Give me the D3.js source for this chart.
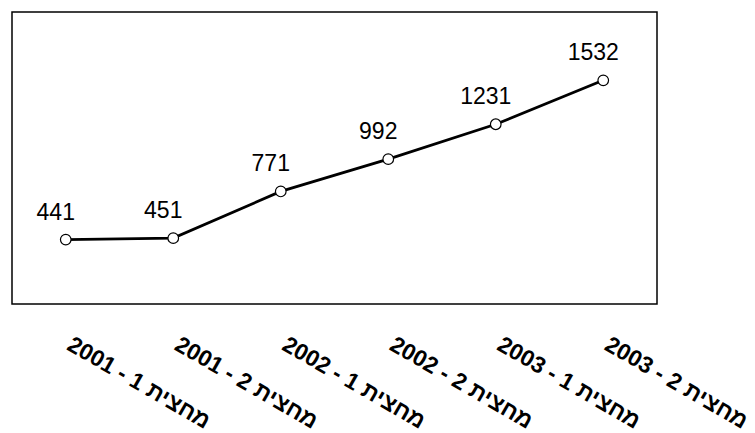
<!DOCTYPE html>
<html>
<head>
<meta charset="utf-8">
<script src="https://cdn.jsdelivr.net/npm/d3@7"></script>
<style>
  html, body { margin: 0; padding: 0; background: #fff; }
  svg { display: block; }
</style>
</head>
<body>
<svg id="chart" width="755" height="433"></svg>
<script>
// Half-year periods and the value recorded for each
const years = ["2001", "2001", "2002", "2002", "2003", "2003"];
const halves = ["1", "2", "1", "2", "1", "2"];
const values = [441, 451, 771, 992, 1231, 1532];
const halfWord = "מחצית";

const categories = years.map((y, i) => `${y} - ${halves[i]} ${halfWord}`);
const data = categories.map((c, i) => ({ cat: c, value: values[i] }));

const svg = d3.select("#chart");
const plot = { left: 12, top: 12, right: 657, bottom: 304 };

const x = d3.scaleBand()
  .domain(categories)
  .range([plot.left, plot.right]);

const y = d3.scaleLinear()
  .domain([0, 2000])
  .range([plot.bottom, plot.top]);

const cx = d => x(d.cat) + x.bandwidth() / 2;

// Plot frame
svg.append("rect")
  .attr("x", plot.left)
  .attr("y", plot.top)
  .attr("width", plot.right - plot.left)
  .attr("height", plot.bottom - plot.top)
  .attr("fill", "none")
  .attr("stroke", "#000")
  .attr("stroke-width", 1.5);

// Series line
svg.append("path")
  .datum(data)
  .attr("fill", "none")
  .attr("stroke", "#000")
  .attr("stroke-width", 2.8)
  .attr("d", d3.line().x(cx).y(d => y(d.value)));

// Point markers
svg.selectAll("circle.pt")
  .data(data)
  .join("circle")
  .attr("class", "pt")
  .attr("cx", cx)
  .attr("cy", d => y(d.value))
  .attr("r", 5.3)
  .attr("fill", "#fff")
  .attr("stroke", "#000")
  .attr("stroke-width", 1.2);

// Value labels above each point
svg.selectAll("text.val")
  .data(data)
  .join("text")
  .attr("class", "val")
  .attr("x", d => cx(d) - 10)
  .attr("y", d => y(d.value) - 20)
  .attr("text-anchor", "middle")
  .attr("font-family", "Arial, 'Liberation Sans', sans-serif")
  .attr("font-size", 23)
  .attr("fill", "#000")
  .text(d => d.value);

// Rotated category labels under the frame
svg.selectAll("text.cat")
  .data(data)
  .join("text")
  .attr("class", "cat")
  .attr("transform", d => `translate(${cx(d)},349) rotate(30)`)
  .attr("text-anchor", "start")
  .attr("font-family", "Arial, 'Liberation Sans', sans-serif")
  .attr("font-weight", "bold")
  .attr("font-size", 23)
  .attr("fill", "#000")
  .text(d => d.cat);
</script>
</body>
</html>
